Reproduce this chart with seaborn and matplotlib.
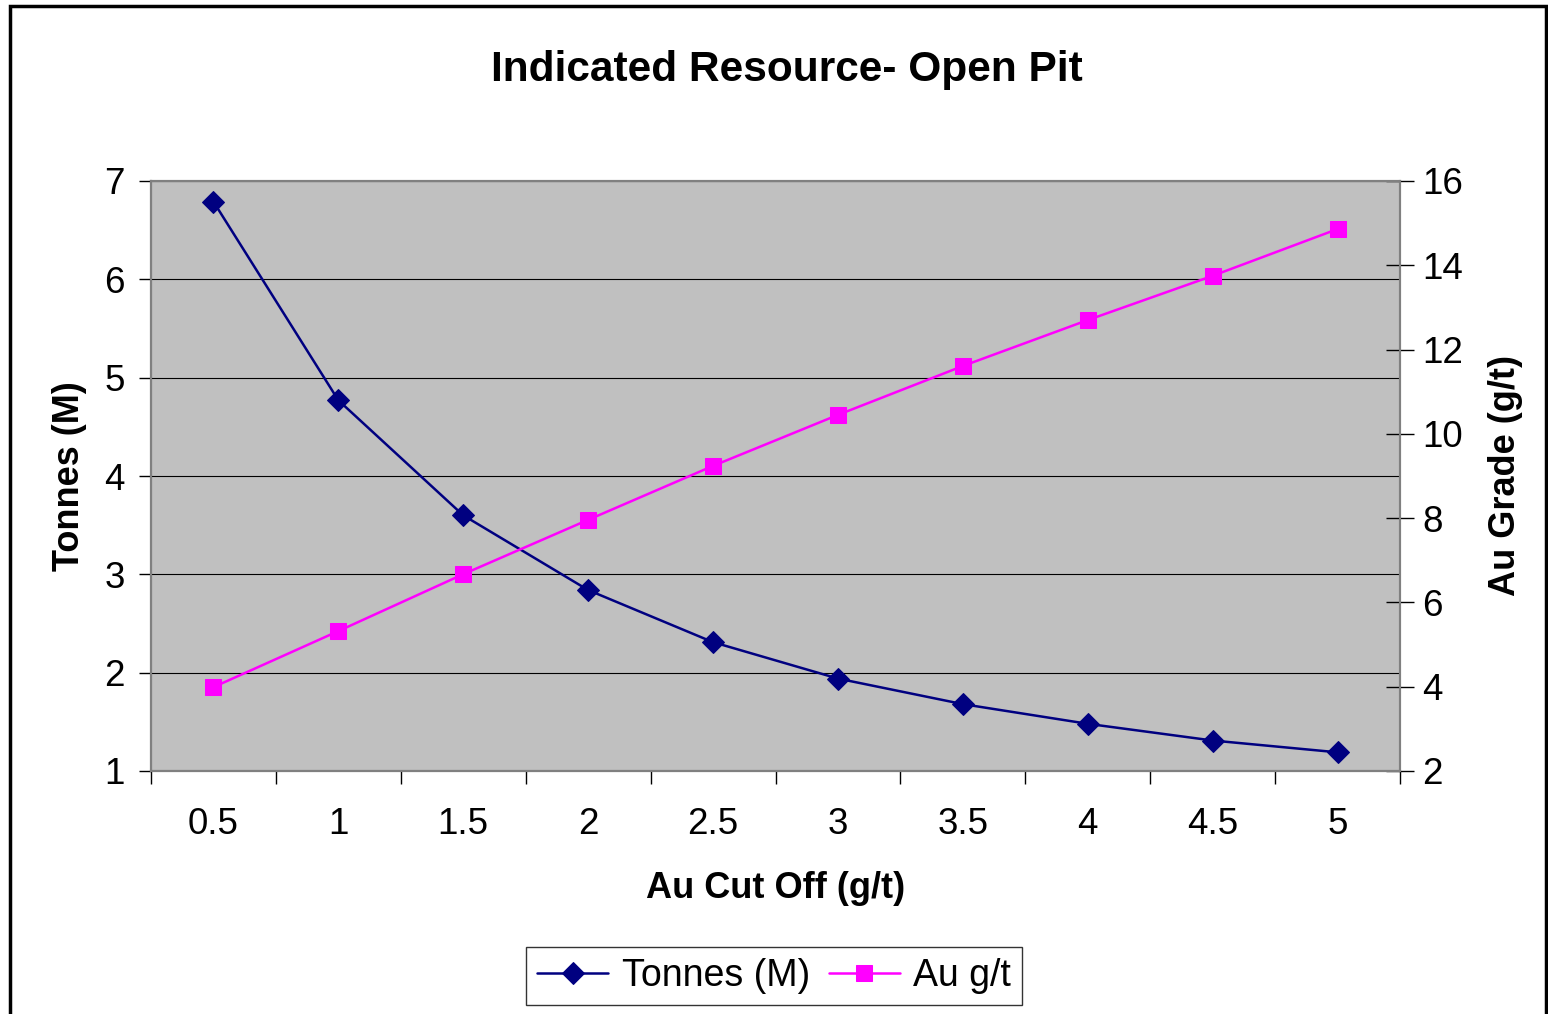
import numpy as np
import pandas as pd
import matplotlib
matplotlib.use("Agg")
import matplotlib.pyplot as plt
from matplotlib.patches import Rectangle
import seaborn as sns

# data
cutoff = ['0.5', '1', '1.5', '2', '2.5', '3', '3.5', '4', '4.5', '5']
tonnes = [6.79, 4.77, 3.60, 2.84, 2.31, 1.94, 1.68, 1.48, 1.31, 1.19]
au_grade = [3.99, 5.32, 6.67, 7.96, 9.24, 10.45, 11.61, 12.70, 13.75, 14.86]

df = pd.DataFrame({'pos': np.arange(len(cutoff)), 'tonnes': tonnes, 'au': au_grade})

sns.set_style("white")
plt.rcParams['font.family'] = ['Liberation Sans', 'DejaVu Sans']
for k in ['text.color', 'axes.labelcolor', 'xtick.color', 'ytick.color']:
    plt.rcParams[k] = 'black'

fig = plt.figure(figsize=(15.48, 10.14), dpi=100)
ax = fig.add_axes([151/1548, 1-771/1014, (1400-151)/1548, (771-181)/1014])
ax.set_facecolor('#C0C0C0')
ax2 = ax.twinx()

sns.lineplot(data=df, x='pos', y='tonnes', ax=ax, color='#000080', marker='D',
             markersize=11, markeredgecolor='#000080', linewidth=1.8, label='Tonnes (M)', legend=False)
sns.lineplot(data=df, x='pos', y='au', ax=ax2, color='#FF00FF', marker='s',
             markersize=11, markeredgecolor='#FF00FF', linewidth=1.8, label='Au g/t', legend=False)

# left axis
ax.set_ylim(1, 7)
ax.set_yticks(range(1, 8))
ax.yaxis.grid(True, color='black', linewidth=0.8)
ax.set_axisbelow(True)
ax.tick_params(axis='y', direction='out', length=9, width=1, labelsize=26.5, pad=10, left=True)
ax.set_ylabel('Tonnes (M)', fontsize=26, fontweight='bold', labelpad=12)

# category x axis
ax.set_xlim(-0.5, len(cutoff) - 0.5)
ax.set_xticks(np.arange(len(cutoff)))
ax.set_xticklabels(cutoff)
ax.set_xticks(np.arange(len(cutoff) + 1) - 0.5, minor=True)
ax.tick_params(axis='x', which='major', length=0, labelsize=26.5, pad=26)
ax.tick_params(axis='x', which='minor', direction='out', length=9, width=1, bottom=True)
ax.set_xlabel('Au Cut Off (g/t)', fontsize=26, fontweight='bold', labelpad=21)

# right axis
ax2.set_ylim(2, 16)
ax2.set_yticks(range(2, 17, 2))
ax2.tick_params(axis='y', direction='inout', length=20, width=1, labelsize=26.5, pad=6, right=True)
ax2.set_ylabel('Au Grade (g/t)', fontsize=26, fontweight='bold', rotation=90, labelpad=18)
ax2.grid(False)

for a in (ax, ax2):
    for s in a.spines.values():
        s.set_color('#808080')
        s.set_linewidth(1.5)
ax.spines['left'].set_color('#404040')
ax.spines['bottom'].set_color('#404040')

fig.suptitle('Indicated Resource- Open Pit', x=0.508, y=1-70/1014, va='center',
             fontsize=30.5, fontweight='bold')

h1, l1 = ax.get_legend_handles_labels()
h2, l2 = ax2.get_legend_handles_labels()
leg = fig.legend(h1 + h2, l1 + l2, loc='center', bbox_to_anchor=(0.5, 1-976/1014), ncol=2,
                 fontsize=27, frameon=True, fancybox=False, edgecolor='black',
                 handlelength=1.9, columnspacing=0.5, handletextpad=0.35, borderpad=0.3,
                 borderaxespad=0.2)
leg.get_frame().set_linewidth(1.0)

# outer chart frame
fig.patches.append(Rectangle((10/1548, -0.05), (1546-10)/1548, 1.05-6/1014, transform=fig.transFigure,
                             fill=False, edgecolor='black', linewidth=2.5))

fig.savefig('out.png', dpi=100)
